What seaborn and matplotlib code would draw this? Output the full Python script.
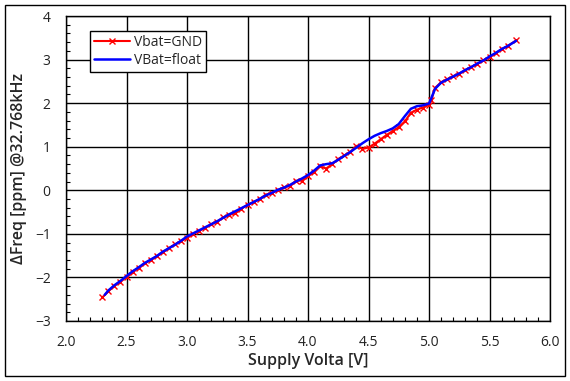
import numpy as np
import pandas as pd
import matplotlib
matplotlib.use('Agg')
import matplotlib.pyplot as plt
import seaborn as sns
from matplotlib.patches import Rectangle
from matplotlib.ticker import MultipleLocator

# Vbat=GND (red, x markers)
v_gnd = [2.30, 2.35, 2.40, 2.45, 2.50, 2.55, 2.60, 2.65, 2.70, 2.75,
         2.80, 2.85, 2.90, 2.95, 3.00, 3.05, 3.10, 3.15, 3.20, 3.25,
         3.30, 3.35, 3.40, 3.45, 3.50, 3.55, 3.60, 3.65, 3.70, 3.75,
         3.80, 3.85, 3.90, 3.95, 4.00, 4.05, 4.10, 4.15, 4.20, 4.25,
         4.30, 4.35, 4.40, 4.45, 4.50, 4.55, 4.60, 4.65, 4.70, 4.75,
         4.80, 4.85, 4.90, 4.95, 5.00, 5.02, 5.05, 5.10, 5.15, 5.20,
         5.25, 5.30, 5.35, 5.40, 5.45, 5.50, 5.55, 5.60, 5.65, 5.72]
f_gnd = [-2.46, -2.32, -2.19, -2.10, -1.98, -1.87, -1.78, -1.68, -1.60, -1.51,
         -1.42, -1.33, -1.24, -1.17, -1.09, -1.00, -0.93, -0.86, -0.78, -0.72,
         -0.62, -0.56, -0.53, -0.42, -0.33, -0.27, -0.20, -0.10, -0.06, 0.00,
         0.07, 0.10, 0.22, 0.22, 0.32, 0.43, 0.55, 0.50, 0.60, 0.72,
         0.80, 0.88, 1.02, 0.95, 0.98, 1.07, 1.17, 1.27, 1.36, 1.45,
         1.58, 1.78, 1.85, 1.90, 1.96, 2.08, 2.35, 2.48, 2.55, 2.62,
         2.68, 2.76, 2.83, 2.90, 2.98, 3.06, 3.14, 3.24, 3.31, 3.44]

# VBat=float (blue)
v_float = [2.32, 2.35, 2.40, 2.45, 2.50, 2.55, 2.60, 2.65, 2.70, 2.75,
           2.80, 2.85, 2.90, 2.95, 3.00, 3.05, 3.10, 3.15, 3.20, 3.25,
           3.30, 3.35, 3.40, 3.45, 3.50, 3.55, 3.60, 3.65, 3.70, 3.75,
           3.80, 3.85, 3.90, 3.95, 4.00, 4.05, 4.10, 4.15, 4.20, 4.25,
           4.30, 4.35, 4.40, 4.45, 4.50, 4.55, 4.60, 4.65, 4.70, 4.75,
           4.80, 4.85, 4.90, 4.95, 5.00, 5.02, 5.05, 5.10, 5.15, 5.20,
           5.25, 5.30, 5.35, 5.40, 5.45, 5.50, 5.55, 5.60, 5.65, 5.72]
f_float = [-2.40, -2.30, -2.18, -2.08, -1.97, -1.86, -1.77, -1.67, -1.59, -1.51,
           -1.41, -1.33, -1.25, -1.16, -1.06, -0.99, -0.92, -0.85, -0.78, -0.71,
           -0.63, -0.55, -0.48, -0.41, -0.34, -0.27, -0.20, -0.12, -0.06, 0.01,
           0.06, 0.12, 0.20, 0.27, 0.35, 0.45, 0.57, 0.60, 0.62, 0.70,
           0.79, 0.88, 0.98, 1.08, 1.17, 1.25, 1.31, 1.36, 1.42, 1.52,
           1.70, 1.87, 1.93, 1.95, 1.99, 2.12, 2.33, 2.47, 2.54, 2.61,
           2.68, 2.76, 2.83, 2.91, 2.98, 3.07, 3.15, 3.24, 3.31, 3.43]

x_ticks = [2.0, 2.5, 3.0, 3.5, 4.0, 4.5, 5.0, 5.5, 6.0]
y_ticks = [-3, -2, -1, 0, 1, 2, 3, 4]

sns.set_style('white')
plt.rcParams['font.family'] = ['Open Sans', 'DejaVu Sans']

fig = plt.figure(figsize=(5.7, 3.81), dpi=100)
ax = fig.add_axes([66 / 570, 1 - 321 / 381, 484 / 570, 305 / 381])

df_gnd = pd.DataFrame({'v': v_gnd, 'f': f_gnd})
df_float = pd.DataFrame({'v': v_float, 'f': f_float})

sns.lineplot(data=df_gnd, x='v', y='f', ax=ax, color='#ff0000', lw=1.5,
             linestyle='-', marker='x', markersize=4.5, markeredgewidth=1.0,
             markeredgecolor='#ff0000', label='Vbat=GND', zorder=3)
sns.lineplot(data=df_float, x='v', y='f', ax=ax, color='#0000ff', lw=1.8,
             linestyle='-', label='VBat=float', zorder=4)

ax.set_xlim(2.0, 6.0)
ax.set_ylim(-3, 4)
ax.set_xticks(x_ticks)
ax.set_xticklabels([f'{t:.1f}' for t in x_ticks])
ax.set_yticks(y_ticks)
ax.xaxis.set_minor_locator(MultipleLocator(0.1))
ax.yaxis.set_minor_locator(MultipleLocator(0.2))
ax.tick_params(which='major', direction='in', length=0, labelsize=10,
               colors='#222222')
ax.tick_params(axis='x', which='major', pad=10)
ax.tick_params(axis='y', which='major', pad=11)
ax.tick_params(which='minor', direction='in', length=3, width=0.8,
               color='black', bottom=True, left=True)
ax.grid(True, which='major', color='black', lw=1.0)
for s in ax.spines.values():
    s.set_color('black')
    s.set_linewidth(1.0)

ax.set_xlabel('Supply Volta [V]', fontsize=11.5, fontweight='semibold',
              labelpad=2)
ax.set_ylabel('ΔFreq [ppm] @32.768kHz', fontsize=11.5, fontweight='semibold',
              labelpad=6)

leg = ax.legend(loc='upper left',
                bbox_to_anchor=(0.05, 0.95), fontsize=10, frameon=True,
                fancybox=False, edgecolor='black', framealpha=1,
                handlelength=2.6, handletextpad=0.3, borderpad=0.25,
                labelspacing=0.25, borderaxespad=0)
leg.get_frame().set_linewidth(1.0)

fig.patches.append(Rectangle((5 / 570, 5 / 381), 560 / 570, 371 / 381,
                             transform=fig.transFigure, fill=False,
                             edgecolor='black', lw=1.0))

fig.savefig('out.png', dpi=100)
